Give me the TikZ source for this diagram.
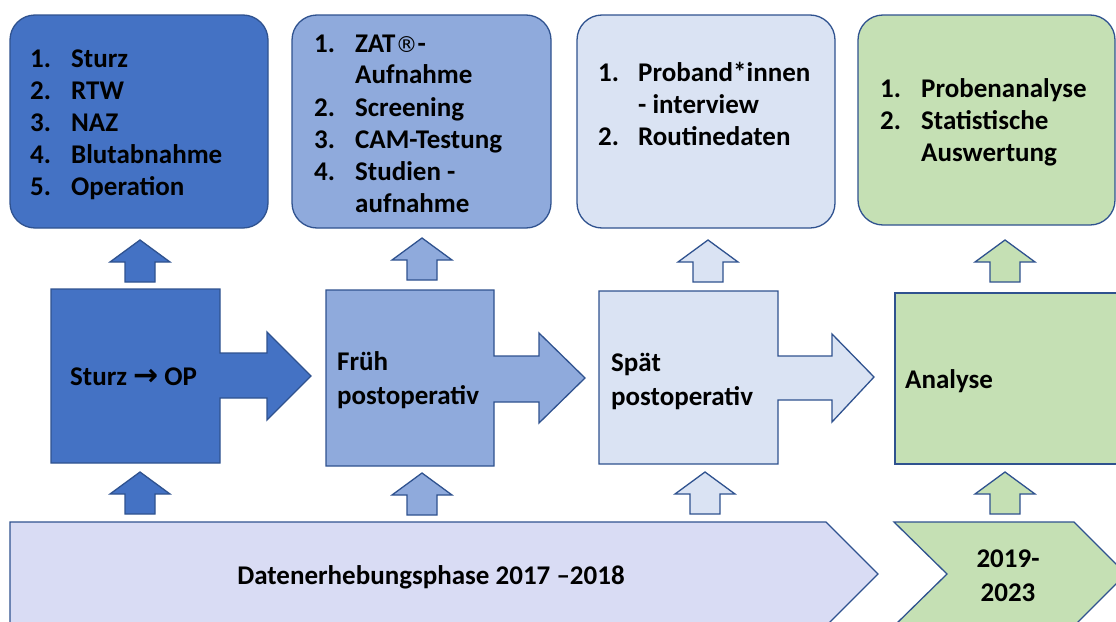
\documentclass[tikz,border=0pt]{standalone}
\usepackage{fontspec}
\setmainfont{Carlito}
\newfontfamily\dejavu{DejaVu Sans}
\usetikzlibrary{positioning}

\definecolor{dunkelblau}{HTML}{4472C4}
\definecolor{mittelblau}{HTML}{8FAADC}
\definecolor{hellblau}{HTML}{DAE3F3}
\definecolor{hellgruen}{HTML}{C5E0B4}
\definecolor{lavendel}{HTML}{D9DCF4}
\definecolor{randblau}{HTML}{2F528F}

\tikzset{
  rand/.style={draw=randblau, line width=1.3pt, line join=miter},
  kasten/.style={rand, rounded corners=25pt},
  liste/.style={anchor=base west, inner sep=0pt, font=\fontsize{27}{32}\selectfont\bfseries},
  mitte/.style={anchor=base west, inner sep=0pt, font=\fontsize{27}{34}\selectfont\bfseries},
  uparr/.pic={\path[pic actions] (-15,0) -- (-15,-20) -- (-30,-20) -- (0,-42) -- (30,-20) -- (15,-20) -- (15,0) -- cycle;}
}

\begin{document}
\begin{tikzpicture}[x=1pt, y=-1pt]
\clip (0,0) rectangle (1116,621);

% obere Kaesten
\draw[kasten, fill=dunkelblau] (10,15) rectangle (268,228);
\draw[kasten, fill=mittelblau] (292,15) rectangle (551,228);
\draw[kasten, fill=hellblau] (577,15) rectangle (835,228);
\draw[kasten, fill=hellgruen] (858,15) rectangle (1115,225);

\node[liste] (liste1) at (30,67) {\begin{tabular}[t]{@{}p{41pt}@{}l@{}}
1. & Sturz\\ 2. & RTW\\ 3. & NAZ\\ 4. & Blutabnahme\\ 5. & Operation
\end{tabular}};
\node[liste] (liste2) at (314,52) {\begin{tabular}[t]{@{}p{41pt}@{}l@{}}
1. & ZAT{\dejavu\mdseries\fontsize{22}{32}\selectfont ®}-\\ & Aufnahme\\ 2. & Screening\\ 3. & CAM-Testung\\ 4. & Studien -\\ & aufnahme
\end{tabular}};
\node[liste] (liste3) at (598,81) {\begin{tabular}[t]{@{}p{40pt}@{}l@{}}
1. & Proband*innen\\ & - interview\\ 2. & Routinedaten
\end{tabular}};
\node[liste] (liste4) at (880,97) {\begin{tabular}[t]{@{}p{41pt}@{}l@{}}
1. & Probenanalyse\\ 2. & Statistische\\ & Auswertung
\end{tabular}};

% Pfeile nach oben
\pic[rand, fill=dunkelblau] at (140,282) {uparr};
\pic[rand, fill=mittelblau] at (422,280) {uparr};
\pic[rand, fill=hellblau] at (708,282) {uparr};
\pic[rand, fill=hellgruen] at (1005,282) {uparr};

\pic[rand, fill=dunkelblau] at (140,514) {uparr};
\pic[rand, fill=mittelblau] at (422,515) {uparr};
\pic[rand, fill=hellblau] at (705,514) {uparr};
\pic[rand, fill=hellgruen] at (1005,514) {uparr};

% Phasen
\draw[rand, fill=dunkelblau] (51,289) -| (220,353) -- (267,353) -- (267,332) -- (311,376)
  -- (267,420) -- (267,398) -- (220,398) |- (51,463) -- cycle;
\draw[rand, fill=mittelblau] (326,290) -| (494,356) -- (539,356) -- (539,333) -- (585,378)
  -- (539,423) -- (539,402) -- (494,402) |- (326,466) -- cycle;
\draw[rand, fill=hellblau] (599,291) -| (778,356) -- (832,356) -- (832,334) -- (874,377)
  -- (832,422) -- (832,400) -- (778,400) |- (599,464) -- cycle;
\draw[rand, fill=hellgruen] (895,293) rectangle (1135,464);

\node[mitte] (sturz) at (70,385) {Sturz {\dejavu\fontsize{30}{34}\selectfont →} OP};
\node[mitte] (frueh) at (337,370) {\begin{tabular}[t]{@{}l@{}}Früh\\ postoperativ\end{tabular}};
\node[mitte] (spaet) at (611,371) {\begin{tabular}[t]{@{}l@{}}Spät\\ postoperativ\end{tabular}};
\node[mitte] (analyse) at (905,388) {Analyse};

% Zeitleiste
\draw[rand, fill=lavendel] (10,522) -- (826,522) -- (878,574) -- (826,626) -- (10,626) -- cycle;
\draw[rand, fill=hellgruen] (894,522) -- (1074,522) -- (1126,574) -- (1074,626) -- (894,626)
  -- (947,574) -- cycle;

\node[mitte, anchor=base] (erhebung) at (431,584) {Datenerhebungsphase 2017 –2018};
\node[mitte, anchor=base] (jahre) at (1008,567) {\begin{tabular}[t]{@{}c@{}}2019-\\ 2023\end{tabular}};
\end{tikzpicture}
\end{document}
